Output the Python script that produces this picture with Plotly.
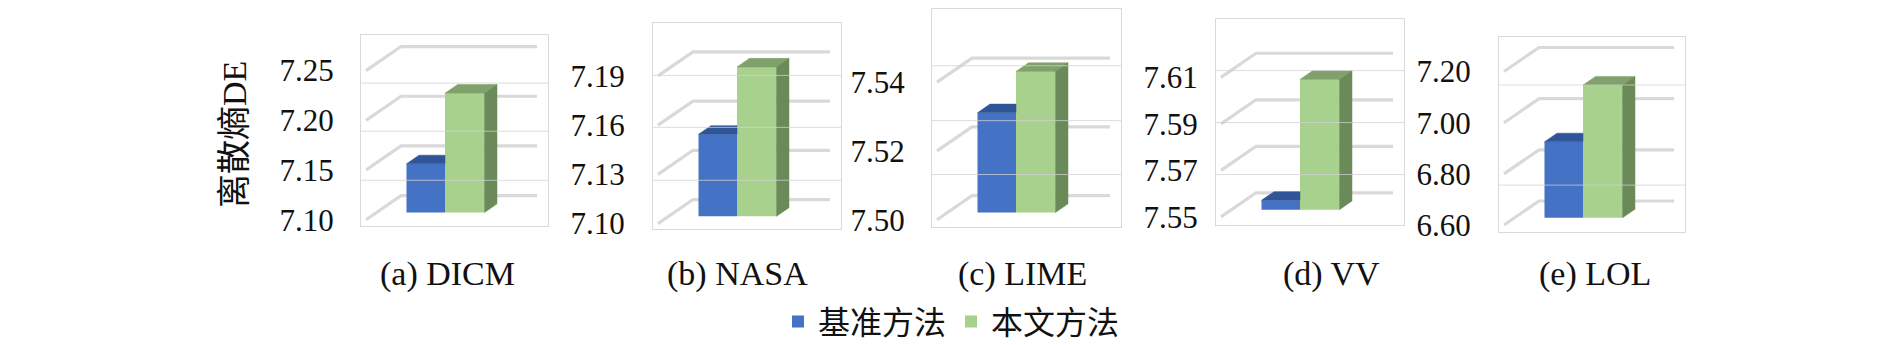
import plotly.graph_objects as go

W, H = 1890, 345

# ---------------- data ----------------
datasets = ["(a) DICM", "(b) NASA", "(c) LIME", "(d) VV", "(e) LOL"]
series_names = ["基准方法", "本文方法"]
baseline = [7.149, 7.150, 7.529, 7.554, 6.897]
proposed = [7.220, 7.191, 7.541, 7.606, 7.119]
tick_values = [
    [7.10, 7.15, 7.20, 7.25],
    [7.10, 7.13, 7.16, 7.19],
    [7.50, 7.52, 7.54],
    [7.55, 7.57, 7.59, 7.61],
    [6.60, 6.80, 7.00, 7.20],
]
tick_labels = [
    ["7.10", "7.15", "7.20", "7.25"],
    ["7.10", "7.13", "7.16", "7.19"],
    ["7.50", "7.52", "7.54"],
    ["7.55", "7.57", "7.59", "7.61"],
    ["6.60", "6.80", "7.00", "7.20"],
]
y_title = "离散熵DE"

# ---------------- layout geometry (pixels) ----------------
boxes = [(353, 27, 540, 226), (645, 15, 833, 229), (924, 0, 1113, 227),
         (1208, 10, 1396, 224), (1491, 29, 1677, 232)]
tick_px = [(219, 64), (223, 69.5), (219, 76), (216, 71), (224.5, 65)]
thin_px = [[77, 127, 178], [69, 123, 178], [59, 116, 172], [64, 118, 172], [79, 183]]
title_x = [439, 729, 1014, 1323, 1587]
standoff = [20, 21, 20, 11, 21]

BLUE, BLUE_TOP = "#4472C4", "#2F5597"
GREEN, GREEN_TOP, GREEN_SIDE = "#A9D18E", "#80A16B", "#6B8A59"
GRID = "#D9D9D9"
FONT = "Liberation Serif, Noto Sans CJK SC, serif"

# depth geometry in px
BAR_SHIFT = 7.5      # front face above the floor front edge
DX, DY = 12.5, 9     # bar depth projection
WALL_DX0, WALL_DX1, WALL_DY = 5, 40, 25
B0, B1, G1 = 45.5, 84, 123.5  # bar edges from box left

fig = go.Figure()
shapes = []
annotations = []
layout_axes = {}

for k in range(5):
    L, T, R, B = boxes[k]
    tv = tick_values[k]
    vlo, vhi = tv[0], tv[-1]
    plo, phi = tick_px[k]
    ppu = (plo - phi) / (vhi - vlo)
    ymin = vlo - (B - plo) / ppu
    ymax = vhi + (phi - T) / ppu
    wpx = R - L
    sfx = "" if k == 0 else str(k + 1)
    xa, ya = "x" + sfx, "y" + sfx

    layout_axes["xaxis" + sfx] = dict(
        domain=[L / W, R / W], range=[0, wpx], anchor=ya,
        showticklabels=False, showgrid=False, zeroline=False,
        showline=True, mirror=True, linecolor=GRID, linewidth=1, fixedrange=True)
    layout_axes["yaxis" + sfx] = dict(
        domain=[1 - B / H, 1 - T / H], range=[ymin, ymax], anchor=xa,
        tickvals=tv, ticktext=tick_labels[k], ticks="",
        tickfont=dict(family=FONT, size=31, color="#111"),
        ticklabelstandoff=standoff[k],
        showgrid=False, zeroline=False,
        showline=True, mirror=True, linecolor=GRID, linewidth=1, fixedrange=True)

    s = BAR_SHIFT / ppu
    dy = DY / ppu
    wdy = WALL_DY / ppu

    # back wall / side wall gridlines (behind bars)
    for v in tv:
        shapes.append(dict(
            type="path", xref=xa, yref=ya, layer="below",
            path=f"M {WALL_DX0},{v} L {WALL_DX1},{v + wdy} L {wpx - 11},{v + wdy}",
            line=dict(color=GRID, width=3.2)))
    # thin flat gridlines (over bars)
    for py in thin_px[k]:
        shapes.append(dict(
            type="line", xref=xa + " domain", yref="paper", layer="above",
            x0=0, x1=1, y0=1 - py / H, y1=1 - py / H,
            line=dict(color="rgba(210,210,210,0.75)", width=1)))

    vb, vg = baseline[k], proposed[k]
    # front faces (bars)
    fig.add_trace(go.Bar(
        x=[(B0 + B1) / 2], y=[vb - vlo], base=[vlo + s], width=[B1 - B0],
        marker=dict(color=BLUE, line=dict(width=0)), xaxis=xa, yaxis=ya,
        name=series_names[0], legendgroup="b", showlegend=(k == 0),
        hoverinfo="skip"))
    fig.add_trace(go.Bar(
        x=[(B1 + G1) / 2], y=[vg - vlo], base=[vlo + s], width=[G1 - B1],
        marker=dict(color=GREEN, line=dict(width=0)), xaxis=xa, yaxis=ya,
        name=series_names[1], legendgroup="g", showlegend=(k == 0),
        hoverinfo="skip"))
    # blue top (right part hidden by green front)
    fig.add_trace(go.Scatter(
        x=[B0, B1, B1, B0 + DX, B0], y=[vb + s, vb + s, vb + s + dy, vb + s + dy, vb + s],
        mode="lines", fill="toself", fillcolor=BLUE_TOP,
        line=dict(color=BLUE_TOP, width=0.5), xaxis=xa, yaxis=ya,
        showlegend=False, hoverinfo="skip"))
    # green top
    fig.add_trace(go.Scatter(
        x=[B1, G1, G1 + DX, B1 + DX, B1], y=[vg + s, vg + s, vg + s + dy, vg + s + dy, vg + s],
        mode="lines", fill="toself", fillcolor=GREEN_TOP,
        line=dict(color=GREEN_TOP, width=0.5), xaxis=xa, yaxis=ya,
        showlegend=False, hoverinfo="skip"))
    # green side
    fig.add_trace(go.Scatter(
        x=[G1, G1, G1 + DX, G1 + DX, G1], y=[vlo + s, vg + s, vg + s + dy, vlo + s + dy, vlo + s],
        mode="lines", fill="toself", fillcolor=GREEN_SIDE,
        line=dict(color=GREEN_SIDE, width=0.5), xaxis=xa, yaxis=ya,
        showlegend=False, hoverinfo="skip"))

    annotations.append(dict(
        text=datasets[k], x=title_x[k] / W, y=1 - 275 / H, xref="paper", yref="paper",
        xanchor="center", yanchor="middle", showarrow=False,
        font=dict(family=FONT, size=34, color="#111")))

annotations.append(dict(
    text=y_title, x=226 / W, y=1 - 131 / H, xref="paper", yref="paper",
    xanchor="center", yanchor="middle", textangle=-90, showarrow=False,
    font=dict(family=FONT, size=34, color="#111")))

fig.update_layout(
    width=W, height=H,
    margin=dict(l=0, r=0, t=0, b=0),
    paper_bgcolor="white", plot_bgcolor="white",
    barmode="overlay",
    shapes=shapes, annotations=annotations,
    legend=dict(orientation="h", x=770 / W, xanchor="left", y=1 - 325 / H, yanchor="middle",
                font=dict(family=FONT, size=32, color="#111"), bgcolor="rgba(0,0,0,0)",
                itemclick=False, itemdoubleclick=False, traceorder="normal"),
    **layout_axes,
)

fig.write_html("out.html")
